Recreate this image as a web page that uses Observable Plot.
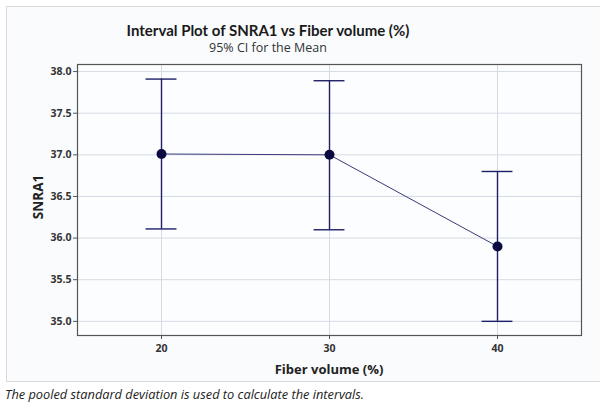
<!DOCTYPE html>
<html>
<head>
<meta charset="utf-8">
<script src="https://cdn.jsdelivr.net/npm/d3@7"></script>
<script src="https://cdn.jsdelivr.net/npm/@observablehq/plot@0.6"></script>
<style>
  html, body { margin: 0; padding: 0; background: #ffffff; }
  #page { position: relative; width: 600px; height: 405px; overflow: hidden; font-family: "Open Sans", "Noto Sans", sans-serif; }
  #box { position: absolute; left: 6px; top: 6px; width: 600px; height: 376px; border: 1px solid #d9d9d9; background: #f9fbfd; box-sizing: border-box; }
  #chart { position: absolute; left: 0; top: 0; }
  .title { position: absolute; left: 0; width: 536px; text-align: center; color: #1a1a1a; white-space: nowrap; }
  #t1 { top: 22px; font-size: 15px; line-height: 17px; font-weight: bold; font-family: "Lato", sans-serif; }
  #t2 { top: 40px; font-size: 12.5px; line-height: 15px; color: #333; }
  #xlab { position: absolute; left: 229px; width: 200px; text-align: center; top: 360px; font-size: 13px; font-weight: bold; color: #222; }
  #ylab { position: absolute; left: 38px; top: 197px; transform: translate(-50%, -50%) rotate(-90deg); font-size: 13.5px; font-weight: bold; color: #222; white-space: nowrap; }
  #foot { position: absolute; left: 5px; top: 386px; font-size: 12.8px; line-height: 16px; font-style: italic; color: #222; font-family: "Open Sans", sans-serif; white-space: nowrap; }
</style>
</head>
<body>
<div id="page">
  <div id="box"></div>
  <div id="chart"></div>
  <div class="title" id="t1">Interval Plot of SNRA1 vs Fiber volume (%)</div>
  <div class="title" id="t2">95% CI for the Mean</div>
  <div id="xlab">Fiber volume (%)</div>
  <div id="ylab">SNRA1</div>
  <div id="foot">The pooled standard deviation is used to calculate the intervals.</div>
</div>
<script>
// Data
const fiberVolume = [20, 30, 40];
const meanSNRA1 = [37.01, 37.00, 35.90];
const lowerCI = [36.11, 36.10, 35.00];
const upperCI = [37.91, 37.89, 36.80];
const xTicks = [20, 30, 40];
const yTicks = [35.0, 35.5, 36.0, 36.5, 37.0, 37.5, 38.0];
const capHalfWidth = 0.92;

const rows = fiberVolume.map((x, i) => ({x, mean: meanSNRA1[i], lo: lowerCI[i], hi: upperCI[i]}));

const ink = "#1f1f66";

const chart = Plot.plot({
  width: 600,
  height: 380,
  marginTop: 64,
  marginLeft: 77,
  marginRight: 19,
  marginBottom: 45,
  style: { background: "transparent", fontFamily: "Open Sans, Noto Sans, sans-serif" },
  x: { domain: [15, 45] },
  y: { domain: [34.83, 38.085] },
  marks: [
    Plot.frame({ fill: "#fbfdff" }),
    Plot.gridY(yTicks, { stroke: "#d5dbe2", strokeOpacity: 1, strokeWidth: 1 }),
    Plot.gridX(xTicks, { stroke: "#d5dbe2", strokeOpacity: 1, strokeWidth: 1 }),
    Plot.axisY(yTicks, { tickFormat: d3.format(".1f"), tickSize: 4, tickPadding: 2, fontSize: 10.5, fontWeight: "bold", fill: "#333", stroke: "#555", label: null }),
    Plot.axisX(xTicks, { tickSize: 4, tickPadding: 5, fontSize: 10.5, fontWeight: "bold", fill: "#333", stroke: "#555", label: null }),
    Plot.ruleX(rows, { x: "x", y1: "lo", y2: "hi", stroke: ink, strokeWidth: 1.4 }),
    Plot.ruleY(rows, { y: "hi", x1: d => d.x - capHalfWidth, x2: d => d.x + capHalfWidth, stroke: ink, strokeWidth: 1.4 }),
    Plot.ruleY(rows, { y: "lo", x1: d => d.x - capHalfWidth, x2: d => d.x + capHalfWidth, stroke: ink, strokeWidth: 1.4 }),
    Plot.line(rows, { x: "x", y: "mean", stroke: "#3a3a78", strokeWidth: 1 }),
    Plot.dot(rows, { x: "x", y: "mean", r: 5, fill: "#0a0a40", stroke: "none" }),
    Plot.frame({ stroke: "#555", strokeWidth: 1.2 })
  ]
});
document.getElementById("chart").appendChild(chart);
</script>
</body>
</html>
